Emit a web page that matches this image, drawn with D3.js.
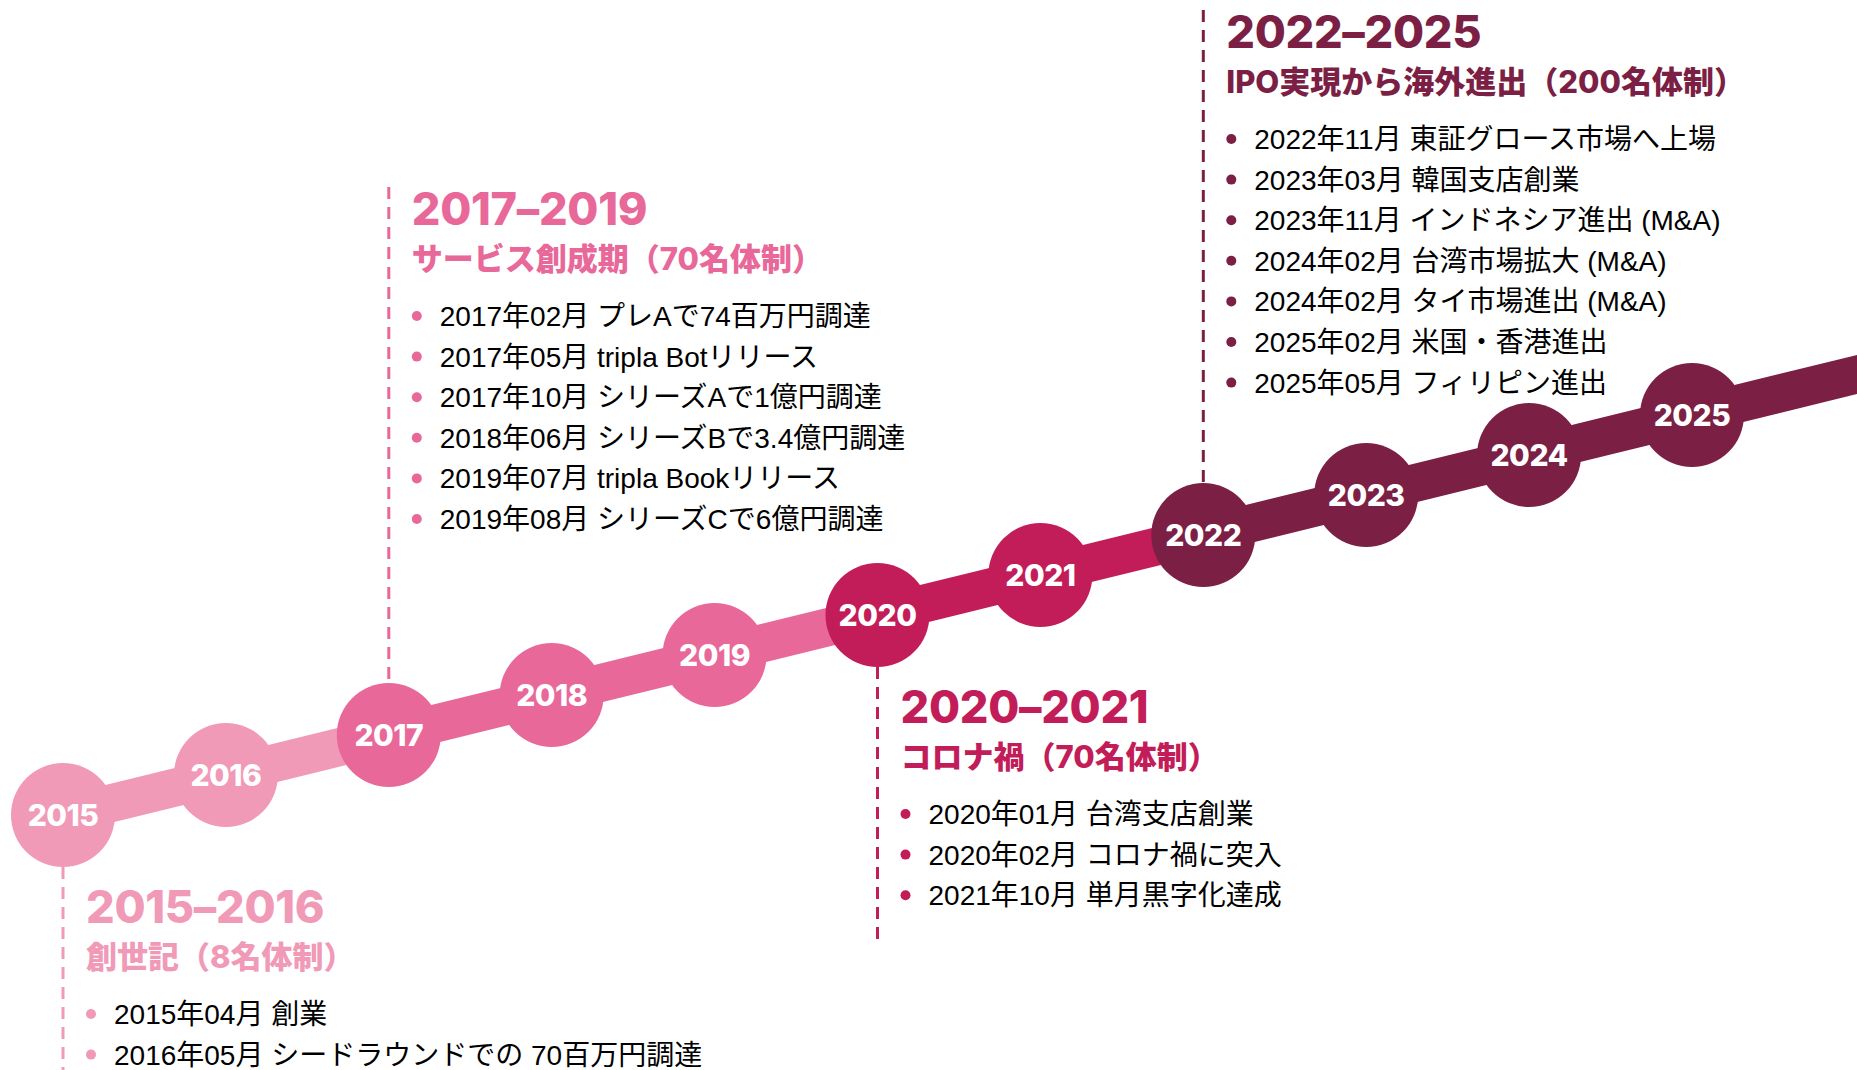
<!DOCTYPE html>
<html>
<head>
<meta charset="utf-8">
<script src="https://cdn.jsdelivr.net/npm/d3@7"></script>
<style>
  html, body { margin: 0; padding: 0; background: #fff; overflow: hidden; }
</style>
</head>
<body>
<div id="chart"></div>
<script>
// years shown on the timeline
const years = [2015, 2016, 2017, 2018, 2019, 2020, 2021, 2022, 2023, 2024, 2025];

// company phases
const phaseStart = [2015, 2017, 2020, 2022];
const phaseTitles = ["2015–2016", "2017–2019", "2020–2021", "2022–2025"];
const phaseSubtitles = [
  "創世記（8名体制）",
  "サービス創成期（70名体制）",
  "コロナ禍（70名体制）",
  "IPO実現から海外進出（200名体制）"
];

// milestones of each phase
const events1 = ["2015年04月 創業", "2016年05月 シードラウンドでの 70百万円調達"];
const events2 = [
  "2017年02月 プレAで74百万円調達",
  "2017年05月 tripla Botリリース",
  "2017年10月 シリーズAで1億円調達",
  "2018年06月 シリーズBで3.4億円調達",
  "2019年07月 tripla Bookリリース",
  "2019年08月 シリーズCで6億円調達"
];
const events3 = [
  "2020年01月 台湾支店創業",
  "2020年02月 コロナ禍に突入",
  "2021年10月 単月黒字化達成"
];
const events4 = [
  "2022年11月 東証グロース市場へ上場",
  "2023年03月 韓国支店創業",
  "2023年11月 インドネシア進出 (M&A)",
  "2024年02月 台湾市場拡大 (M&A)",
  "2024年02月 タイ市場進出 (M&A)",
  "2025年02月 米国・香港進出",
  "2025年05月 フィリピン進出"
];
const phaseEvents = [events1, events2, events3, events4];

// layout
const width = 1857, height = 1070;
const r = 52;
const lineH = 40.6;
const blockBelow = [true, false, true, false];
const aboveTitleY = [null, 225, null, 48];

const svg = d3
  .select("#chart")
  .append("svg")
  .attr("width", width)
  .attr("height", height)
  .style("display", "block");

const x = d3.scaleLinear().domain([2015, 2025]).range([63, 1692]);
const y = d3.scaleLinear().domain([2015, 2025]).range([815, 415]);

const color = d3
  .scaleOrdinal()
  .domain(phaseTitles)
  .range(["#F09AB8", "#E8689A", "#C21D58", "#7C1F45"]);

const phaseOf = (yr) => d3.bisectRight(phaseStart, yr) - 1;
const yearColor = (yr) => color(phaseTitles[phaseOf(yr)]);

// band between the circles, one piece per phase
const line = d3.line().x((d) => x(d)).y((d) => y(d));
const segEnds = phaseStart.slice(1).concat([2026.5]);
svg
  .selectAll("path.band")
  .data(phaseStart)
  .join("path")
  .attr("class", "band")
  .attr("d", (d, i) => line([d, segEnds[i]]))
  .attr("fill", "none")
  .attr("stroke", (d, i) => color(phaseTitles[i]))
  .attr("stroke-width", 38);

// text blocks with dashed leaders
phaseStart.forEach(function (start, i) {
  const c = color(phaseTitles[i]);
  const cx = x(start);
  const events = phaseEvents[i];
  let titleY, lineTop, lineBottom;
  if (blockBelow[i]) {
    titleY = y(start) + 108;
    lineTop = y(start) + r;
    lineBottom = titleY + 102 + (events.length - 1) * lineH + 36;
  } else {
    titleY = aboveTitleY[i];
    lineTop = titleY - 38;
    lineBottom = y(start) - r;
  }
  svg
    .append("line")
    .attr("x1", cx)
    .attr("x2", cx)
    .attr("y1", lineTop)
    .attr("y2", lineBottom)
    .attr("stroke", c)
    .attr("stroke-width", 3)
    .attr("stroke-dasharray", "12,8");

  const tx = cx + 23;
  svg
    .append("text")
    .attr("x", tx)
    .attr("y", titleY)
    .attr("fill", c)
    .style("font-family", "Inter, 'Noto Sans CJK JP', sans-serif")
    .style("font-weight", 800)
    .style("font-size", "45px")
    .style("letter-spacing", "-0.3px")
    .text(phaseTitles[i]);

  svg
    .append("text")
    .attr("x", tx)
    .attr("y", titleY + 45)
    .attr("fill", c)
    .style("font-family", "Inter, 'Noto Sans CJK JP', sans-serif")
    .style("font-weight", 800)
    .style("font-size", "31px")
    .text(phaseSubtitles[i]);

  const g = svg.append("g");
  events.forEach(function (ev, j) {
    const by = titleY + 101 + j * lineH;
    g.append("circle")
      .attr("cx", tx + 5)
      .attr("cy", by - 10)
      .attr("r", 5)
      .attr("fill", c);
    g.append("text")
      .attr("x", tx + 28)
      .attr("y", by)
      .attr("fill", "#000")
      .style("font-family", "'Liberation Sans', Arial, 'Noto Sans CJK JP', sans-serif")
      .style("font-size", "28px")
      .text(ev);
  });
});

// year circles
const nodes = svg
  .selectAll("g.year")
  .data(years)
  .join("g")
  .attr("class", "year")
  .attr("transform", (d) => `translate(${x(d)},${y(d)})`);

nodes.append("circle").attr("r", r).attr("fill", (d) => yearColor(d));

nodes
  .append("text")
  .attr("text-anchor", "middle")
  .attr("dy", "0.36em")
  .attr("fill", "#fff")
  .style("font-family", "Inter, sans-serif")
  .style("font-weight", 800)
  .style("font-size", "30px")
  .style("letter-spacing", "-0.5px")
  .text((d) => d);
</script>
</body>
</html>
